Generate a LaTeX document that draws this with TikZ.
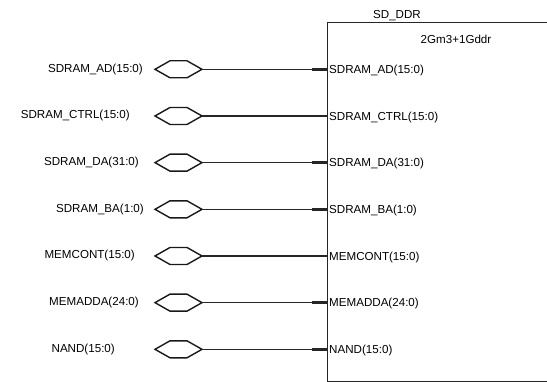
\documentclass[tikz,border=0pt]{standalone}
\usepackage{fontspec}
\setmainfont{Liberation Sans}
\usetikzlibrary{calc}
\begin{document}
\begin{tikzpicture}[x=1pt,y=-1pt,
  lbl/.style={font=\fontsize{11.6}{12}\selectfont,inner sep=0pt},
  wire/.style={line width=1.2pt,color=black!85},
  stub/.style={line width=2.6pt,color=black!85},
  hex/.style={line width=1.4pt,color=black!90,line join=miter},
  body/.style={line width=1pt,color=black!85}]
\useasboundingbox (0,0) rectangle (547,382);
\begin{scope}
\clip (0,0) rectangle (547,382);
\node[body,draw,minimum width=240pt,minimum height=359pt,anchor=north west,inner sep=0pt] (box) at (327,22) {};
\end{scope}
\node[lbl,anchor=base] (title) at (397,19) {SD\_DDR};
\node[lbl,anchor=center] (part) at (456,39) {2Gm3+1Gddr};
\foreach \i/\name/\xr in {0/SDRAM\_AD(15:0)/143, 1/SDRAM\_CTRL(15:0)/130, 2/SDRAM\_DA(31:0)/139, 3/SDRAM\_BA(1:0)/144, 4/MEMCONT(15:0)/135, 5/MEMADDA(24:0)/139, 6/NAND(15:0)/115}{
  \pgfmathsetmacro{\yy}{69.3+46.67*\i}
  \node[lbl,anchor=east] (L\i) at (\xr,\yy) {\name};
  \coordinate (hl\i) at (155,\yy);
  \coordinate (hr\i) at (202,\yy);
  \draw[hex] (hl\i) -- ++(15,-8.5) -- ++(17,0) -- (hr\i) -- ++(-15,8.5) -- ++(-17,0) -- cycle;
  \coordinate (p\i) at (box.west |- hr\i);
  \coordinate (s\i) at ($(p\i)+(-15,0)$);
  \draw[wire] (hr\i) -- (s\i);
  \draw[stub] (s\i) -- (p\i);
  \node[lbl,anchor=west] (R\i) at ($(p\i)+(2,1.2)$) {\name};
}
\end{tikzpicture}
\end{document}
